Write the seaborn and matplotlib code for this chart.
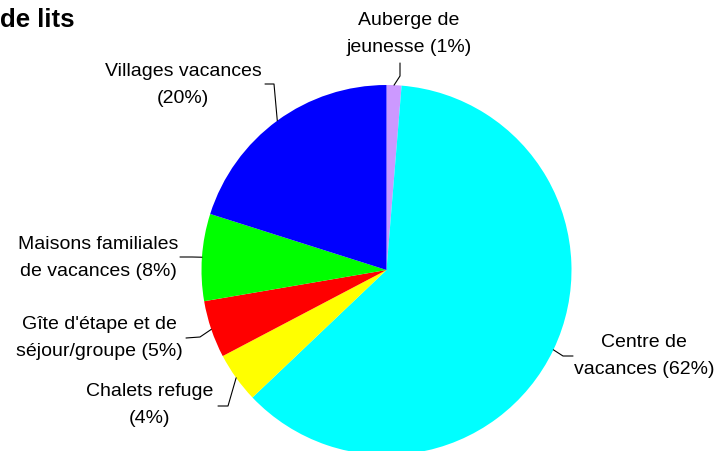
import numpy as np
import matplotlib
matplotlib.use("Agg")
import matplotlib.pyplot as plt
import seaborn as sns

# Share of beds by type of accommodation (percent)
categories = [
    "Auberge de\njeunesse",
    "Centre de\nvacances",
    "Chalets refuge\n",
    "Gîte d'étape et de\nséjour/groupe",
    "Maisons familiales\nde vacances",
    "Villages vacances\n",
]
values = [1.3, 61.6, 4.4, 5.0, 7.6, 20.1]
colors = ["#CC99FF", "#00FFFF", "#FFFF00", "#FF0000", "#00FF00", "#0000FF"]
title = "de lits"

sns.set_theme(style="white")
plt.rcParams["font.family"] = ["Liberation Sans", "DejaVu Sans"]

W, H = 718, 452
fig = plt.figure(figsize=(W / 100, H / 100), dpi=100)
fig.patch.set_facecolor("white")

# pie placement in pixels
cx, cy, R = 386.5, 271.0, 185.0
ax = fig.add_axes([(cx - R) / W, (H - cy - R) / H, 2 * R / W, 2 * R / H])
ax.axis("off")

wedges, _ = ax.pie(values, colors=colors, startangle=90, counterclock=False,
                   radius=1.0, wedgeprops=dict(linewidth=0))
ax.set_xlim(-1, 1)
ax.set_ylim(-1, 1)
ax.set_aspect("equal")


def px(x, y):
    """pixel coordinates -> pie axes data coordinates"""
    return (x - cx) / R, (cy - y) / R


total = sum(values)
# text centre and leader path (pixels) for each label
layout = [
    ((409, 34), [(400, 77), (400, 64)]),
    ((644, 356), [(563, 357), (573, 357)]),
    ((150, 405), [(228, 407), (218, 407)]),
    ((99, 338), [(200, 338), (186, 339)]),
    ((98, 258), [(192, 258), (180, 258)]),
    ((183, 85), [(274, 85), (265, 85)]),
]

cum = 0.0
for cat, v, (tpos, path) in zip(categories, values, layout):
    mid = (cum + v / 2) / total * 2 * np.pi
    cum += v
    ex, ey = np.sin(mid), np.cos(mid)
    lbl = cat.rstrip("\n")
    if cat.endswith("\n"):
        text = f"{lbl}\n({v:.0f}%)"
    else:
        text = f"{lbl} ({v:.0f}%)"
    pts = [(ex, ey)] + [px(*p) for p in path]
    xs, ys = zip(*pts)
    ax.plot(xs, ys, color="black", lw=0.8, clip_on=False)
    tx, ty = px(*tpos)
    ax.text(tx, ty, text, ha="center", va="center", fontsize=14,
            linespacing=1.7, color="black", clip_on=False)

fig.text(0 / W, 1 - 20 / H, title, ha="left", va="center",
         fontsize=18.5, fontweight="bold", color="black")

fig.savefig("out.png", dpi=100, facecolor="white")
